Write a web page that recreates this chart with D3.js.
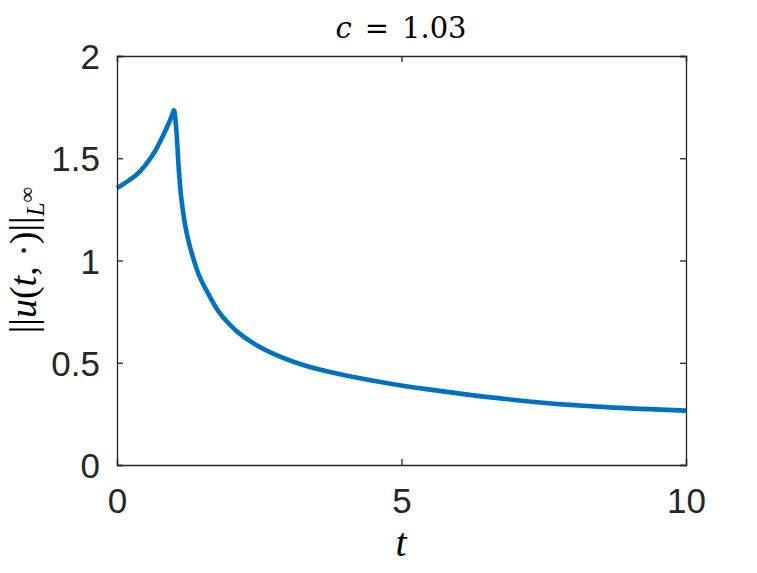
<!DOCTYPE html>
<html>
<head>
<meta charset="utf-8">
<script src="https://d3js.org/d3.v7.min.js"></script>
<style>
  html, body { margin: 0; padding: 0; background: #fff; }
  svg { display: block; }
</style>
</head>
<body>
<div id="chart"></div>
<script>
// sup-norm of the solution over time
const tValues = [0, 0.2, 0.4, 0.6, 0.7, 0.8, 0.9, 0.96, 1.0,
                 1.045, 1.085, 1.12, 1.155, 1.2, 1.253, 1.33, 1.43, 1.58, 1.75, 2.1,
                 2.51, 3.1, 3.685, 4.27, 4.86, 5.44, 6.03, 7.43, 8.6, 10.0];
const uNorm = [1.355, 1.39, 1.435, 1.505, 1.55, 1.605, 1.665, 1.705, 1.735,
               1.63, 1.45, 1.33, 1.25, 1.17, 1.10, 1.02, 0.935, 0.85, 0.765, 0.655,
               0.577, 0.505, 0.458, 0.424, 0.395, 0.371, 0.349, 0.306, 0.283, 0.266];

const xTicks = [0, 5, 10];
const yTicks = [0, 0.5, 1, 1.5, 2];
const xTickLabels = ['0', '5', '10'];
const yTickLabels = ['0', '0.5', '1', '1.5', '2'];

const width = 757, height = 573;
const margin = { left: 117, right: 757 - 686, top: 56, bottom: 573 - 465 };
const axisColor = '#262626';
const lineColor = '#0072BD';

const svg = d3.select('#chart').append('svg')
    .attr('width', width)
    .attr('height', height);

const x = d3.scaleLinear().domain([0, 10]).range([margin.left, width - margin.right]);
const y = d3.scaleLinear().domain([0, 2]).range([height - margin.bottom, margin.top]);

// data line
const data = tValues.map((t, i) => ({ t, v: uNorm[i] }));
const line = d3.line()
    .x(d => x(d.t))
    .y(d => y(d.v))
    .curve(d3.curveMonotoneX);

svg.append('path')
    .datum(data)
    .attr('d', line)
    .attr('fill', 'none')
    .attr('stroke', lineColor)
    .attr('stroke-width', 4.6)
    .attr('stroke-linejoin', 'round');

// axes, ticks pointing inward and mirrored on the box
const tickLen = 6;
const axBottom = svg.append('g').attr('transform', `translate(0,${y(0)})`)
    .call(d3.axisBottom(x).tickValues(xTicks).tickSize(-tickLen).tickPadding(23)
        .tickFormat((d, i) => xTickLabels[i]));
const axTop = svg.append('g').attr('transform', `translate(0,${y(2)})`)
    .call(d3.axisTop(x).tickValues(xTicks).tickSize(-tickLen).tickFormat(''));
const axLeft = svg.append('g').attr('transform', `translate(${x(0)},0)`)
    .call(d3.axisLeft(y).tickValues(yTicks).tickSize(-tickLen).tickPadding(17)
        .tickFormat((d, i) => yTickLabels[i]));
const axRight = svg.append('g').attr('transform', `translate(${x(10)},0)`)
    .call(d3.axisRight(y).tickValues(yTicks).tickSize(-tickLen).tickFormat(''));

[axBottom, axTop, axLeft, axRight].forEach(g => {
    g.select('.domain').attr('stroke', axisColor).attr('stroke-width', 1.3);
    g.selectAll('.tick line').attr('stroke', axisColor).attr('stroke-width', 1.3);
    g.selectAll('.tick text')
        .attr('fill', axisColor)
        .attr('font-family', '"Liberation Sans", Arial, sans-serif')
        .attr('font-size', 35);
});
axBottom.selectAll('.tick text').attr('dy', '0.71em');
axLeft.selectAll('.tick text').attr('dy', '0.36em');

const serif = '"Liberation Serif", "Times New Roman", serif';
const dejaSerif = '"DejaVu Serif", serif';

// title: c = 1.03
const title = svg.append('text')
    .attr('x', 401).attr('y', 38)
    .attr('text-anchor', 'middle')
    .attr('font-family', dejaSerif)
    .attr('font-size', 29)
    .attr('fill', '#000');
title.append('tspan').attr('font-style', 'italic').text('c');
title.append('tspan').attr('dx', 13).text('=');
title.append('tspan').attr('dx', 13).text('1.03');

// x label
svg.append('text')
    .attr('x', 401).attr('y', 556)
    .attr('text-anchor', 'middle')
    .attr('font-family', serif)
    .attr('font-style', 'italic')
    .attr('font-size', 40)
    .attr('fill', '#000')
    .text('t');

// y label: ||u(t,·)||_{L∞}
const ylab = svg.append('text')
    .attr('transform', 'translate(36,260) rotate(-90)')
    .attr('text-anchor', 'middle')
    .attr('font-family', serif)
    .attr('font-size', 38)
    .attr('fill', '#000');
ylab.append('tspan').text('||');
ylab.append('tspan').attr('font-style', 'italic').text('u');
ylab.append('tspan').text('(');
ylab.append('tspan').attr('font-style', 'italic').text('t');
ylab.append('tspan').text(', ·)||');
ylab.append('tspan').attr('font-style', 'italic').attr('font-size', 25).attr('dy', 8).text('L');
ylab.append('tspan').attr('font-size', 22).attr('dy', -10).text('∞');
</script>
</body>
</html>
